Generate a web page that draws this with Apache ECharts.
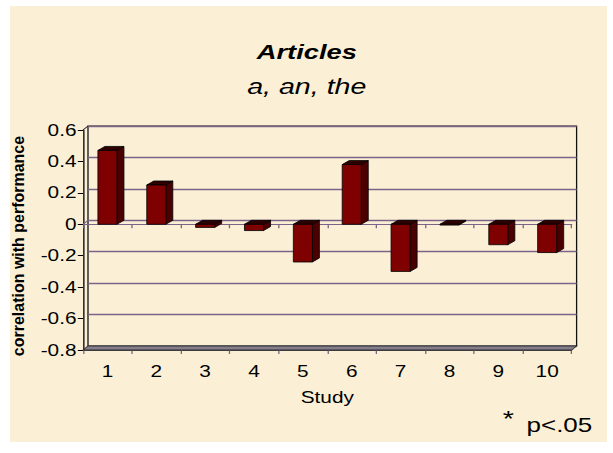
<!DOCTYPE html>
<html>
<head>
<meta charset="utf-8">
<script src="https://cdn.jsdelivr.net/npm/echarts@6/dist/echarts.min.js"></script>
<style>
  html, body { margin: 0; padding: 0; background: #ffffff; overflow: hidden; }
  /* the whole drawing is laid out narrow and widened horizontally */
  #chart { width: 471.54px; height: 453px; transform: scaleX(1.3); transform-origin: 0 0; }
</style>
</head>
<body>
<div id="chart"></div>
<script>
// ---- data ----
const studies = ['1', '2', '3', '4', '5', '6', '7', '8', '9', '10'];
const correlations = [0.47, 0.25, -0.02, -0.04, -0.24, 0.38, -0.30, -0.005, -0.13, -0.18];
const yMin = -0.8, yMax = 0.6, yStep = 0.2;
const titleText = 'Articles';
const subtitleText = 'a, an, the';
const yName = 'correlation with performance';
const xName = 'Study';
const noteStar = '*';
const noteText = 'p<.05';

// ---- layout / style ----
const SX = 1.3;                       // horizontal widening of the drawing
const W = 613 / SX;
const FONT = '"Liberation Sans", Arial, sans-serif';
const WALL_DX = 5 / SX, WALL_DY = 4;  // depth offset of the back wall
const BAR_DX = 7 / SX, BAR_DY = 4;    // depth of each bar
const FRONT = '#7f0000', SIDE = '#4a0000', TOP = '#2e0000';
const GRID_COLOR = '#7b6488';

const plot = { left: 83 / SX, right: W - 571 / SX, top: 130, bottom: 453 - 350 };

const chart = echarts.init(document.getElementById('chart'), null, { renderer: 'svg' });

const barData = correlations.map((v, i) => [i, v]);

chart.setOption({
  animation: false,
  backgroundColor: 'transparent',
  title: {
    text: titleText,
    subtext: subtitleText,
    left: 'center',
    top: 36,
    itemGap: 12,
    textStyle: { fontFamily: FONT, fontSize: 21, fontWeight: 'bold', fontStyle: 'italic', color: '#000', lineHeight: 22 },
    subtextStyle: { fontFamily: FONT, fontSize: 22, fontStyle: 'italic', color: '#000', lineHeight: 22 }
  },
  graphic: [
    { type: 'rect', z: -100, silent: true,
      shape: { x: 10 / SX, y: 6, width: 597 / SX, height: 436 },
      style: { fill: '#fbf0d6' } },
    // value-axis title, kept at its natural proportions while the drawing is widened
    { type: 'text', x: 19 / SX, y: 246, rotation: Math.PI / 2, scaleY: 1 / SX, z: 10,
      style: { text: yName, font: 'bold 16px ' + FONT, fill: '#000', align: 'center', verticalAlign: 'middle' } },
    { type: 'text', x: 391, y: 418, z: 10,
      style: { text: noteStar, font: '22px ' + FONT, fill: '#000', align: 'center', verticalAlign: 'middle' } },
    { type: 'text', x: 405, y: 425, z: 10,
      style: { text: noteText, font: '20px ' + FONT, fill: '#000', align: 'left', verticalAlign: 'middle' } }
  ],
  grid: [
    Object.assign({ show: false }, plot),
    { show: true, borderColor: '#111', borderWidth: 1, backgroundColor: 'transparent',
      left: plot.left + WALL_DX, right: plot.right - WALL_DX,
      top: plot.top - WALL_DY, bottom: plot.bottom + WALL_DY }
  ],
  xAxis: [
    { // category line along zero
      type: 'category', gridIndex: 0, data: studies,
      axisLine: { onZero: true, lineStyle: { color: GRID_COLOR, width: 1.2 } },
      axisTick: { show: true, length: 4, lineStyle: { color: GRID_COLOR } },
      axisLabel: { show: false }, splitLine: { show: false }
    },
    { // labelled category axis along the floor
      type: 'category', gridIndex: 0, data: studies, position: 'bottom',
      axisLine: { onZero: false, lineStyle: { color: '#444', width: 1 } },
      axisTick: { show: true, length: 4, lineStyle: { color: GRID_COLOR } },
      axisLabel: { margin: 13, fontFamily: FONT, fontSize: 16, color: '#000' },
      name: xName, nameLocation: 'middle', nameGap: 39,
      nameTextStyle: { fontFamily: FONT, fontSize: 16, color: '#000' }
    },
    { type: 'category', gridIndex: 1, data: studies, show: false }
  ],
  yAxis: [
    {
      type: 'value', gridIndex: 0, min: yMin, max: yMax, interval: yStep,
      axisLine: { show: true, lineStyle: { color: '#000', width: 1 } },
      axisTick: { show: true, length: 4, lineStyle: { color: '#000' } },
      axisLabel: { margin: 5, fontFamily: FONT, fontSize: 16, color: '#000' },
      splitLine: { show: false }
    },
    {
      type: 'value', gridIndex: 1, min: yMin, max: yMax, interval: yStep,
      axisLine: { show: false }, axisTick: { show: false }, axisLabel: { show: false },
      splitLine: { show: true, lineStyle: { color: GRID_COLOR, width: 1.3 } }
    }
  ],
  series: [
    { // floor slab and corner edges of the box
      type: 'custom', xAxisIndex: 0, yAxisIndex: 0, z: 1, silent: true,
      data: [[0, yMin]],
      renderItem: function (params, api) {
        const band = api.size([1, 0])[0];
        const xl = api.coord([0, yMin])[0] - band / 2;
        const xr = api.coord([studies.length - 1, yMin])[0] + band / 2;
        const yb = api.coord([0, yMin])[1];
        const yt = api.coord([0, yMax])[1];
        const y0 = api.coord([0, 0])[1];
        const edge = { stroke: '#222', lineWidth: 0.8 };
        return { type: 'group', children: [
          { type: 'polygon',
            shape: { points: [[xl, yb], [xr, yb], [xr + WALL_DX, yb - WALL_DY], [xl + WALL_DX, yb - WALL_DY]] },
            style: { fill: '#857d8c', stroke: '#333', lineWidth: 0.8 } },
          { type: 'line', shape: { x1: xl, y1: yt, x2: xl + WALL_DX, y2: yt - WALL_DY }, style: edge },
          { type: 'line', shape: { x1: xl, y1: y0, x2: xl + WALL_DX, y2: y0 - WALL_DY },
            style: { stroke: GRID_COLOR, lineWidth: 1 } }
        ] };
      }
    },
    { // 3-D style columns
      type: 'custom', name: 'correlation', xAxisIndex: 0, yAxisIndex: 0, z: 3,
      data: barData,
      renderItem: function (params, api) {
        const i = api.value(0), v = api.value(1);
        const base = api.coord([i, 0]);
        const end = api.coord([i, v]);
        const w = api.size([1, 0])[0] * 0.39;
        const x0 = base[0] - w / 2, x1 = base[0] + w / 2;
        const yHi = Math.min(base[1], end[1]);
        const yLo = Math.max(base[1], end[1]);
        const line = { stroke: '#000', lineWidth: 0.7 };
        return { type: 'group', children: [
          { type: 'polygon',
            shape: { points: [[x1, yHi], [x1 + BAR_DX, yHi - BAR_DY], [x1 + BAR_DX, yLo - BAR_DY], [x1, yLo]] },
            style: Object.assign({ fill: SIDE }, line) },
          { type: 'polygon',
            shape: { points: [[x0, yHi], [x0 + BAR_DX, yHi - BAR_DY], [x1 + BAR_DX, yHi - BAR_DY], [x1, yHi]] },
            style: Object.assign({ fill: TOP }, line) },
          { type: 'rect',
            shape: { x: x0, y: yHi, width: w, height: yLo - yHi },
            style: Object.assign({ fill: FRONT }, line) }
        ] };
      }
    }
  ]
});
</script>
</body>
</html>
